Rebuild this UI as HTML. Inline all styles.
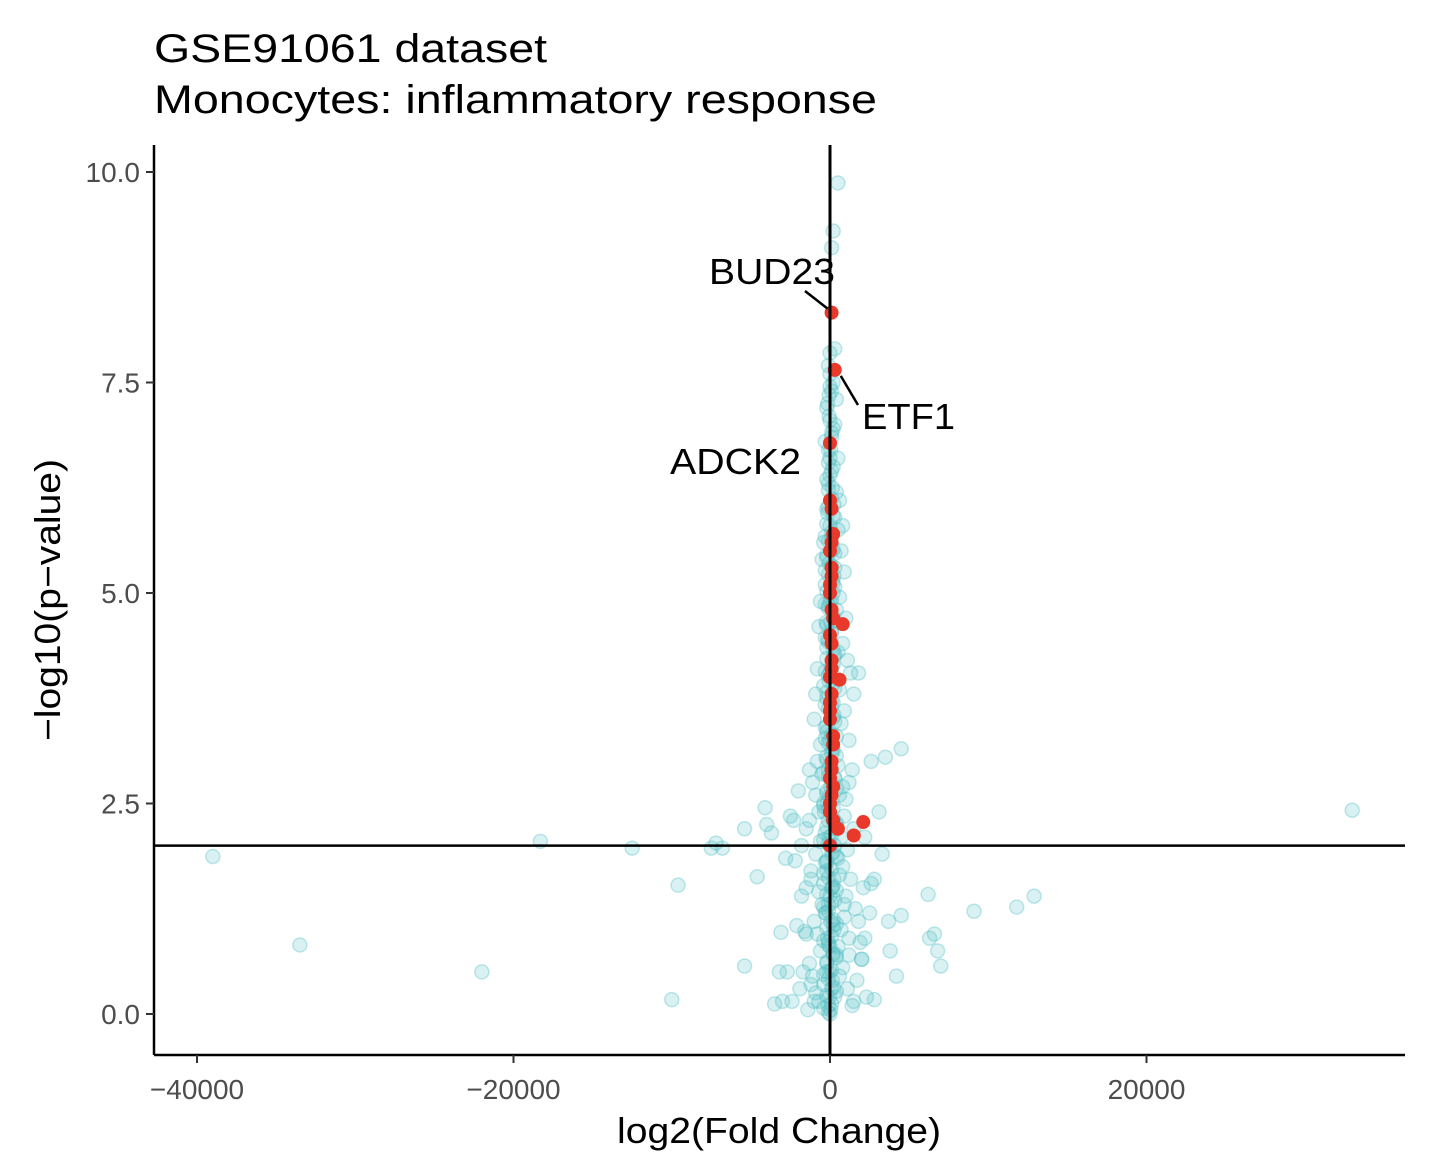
<!DOCTYPE html>
<html><head><meta charset="utf-8">
<style>
body{margin:0;background:#fff;}
svg{display:block;font-family:"Liberation Sans",Arial,sans-serif;}
</style></head>
<body>
<svg id="chart" width="1448" height="1172">
<text x="154" y="62" font-size="40" textLength="393" lengthAdjust="spacingAndGlyphs" fill="#000">GSE91061 dataset</text>
<text x="154" y="113" font-size="40" textLength="723" lengthAdjust="spacingAndGlyphs" fill="#000">Monocytes: inflammatory response</text>
<g id="pts"></g>
<g id="axes"></g>
</svg>
<script>
// Outlying background genes [log2FC, -log10 p]
const outlierPts = [[-39000,1.87],[-33500,0.82],[-22000,0.5],[-18300,2.05],[-12500,1.97],[-10000,0.17],[-9600,1.53],[-7500,1.97],[-7200,2.03],[-6800,1.97],[-5400,2.2],[-5400,0.57],[-4600,1.63],[-4100,2.45],[-4000,2.25],[-3700,2.15],[-3500,0.12],[-3200,0.5],[-3100,0.97],[-3000,0.15],[-2800,1.85],[-2700,0.5],[-2300,2.3],[-2200,1.82],[-2000,2.65],[-1500,1.5],[-1300,2.9],[-1200,0.35],[-1000,0.15],[-1500,0.95],[-1800,2.0],[-2500,2.35],
 [900,1.3],[1200,0.7],[1500,3.8],[1800,4.05],[2000,0.65],[2200,0.9],[2600,3.0],[2800,1.6],[2800,0.17],[3100,2.4],[3300,1.9],[3500,3.05],[3700,1.1],[3800,0.75],[4200,0.45],[4500,3.15],[4500,1.17],[6200,1.42],[6300,0.9],[6600,0.95],[6800,0.75],[7000,0.57],[9100,1.22],[11800,1.27],[12900,1.4],[33000,2.42]];
// Central column of background genes [log2FC, -log10 p]
const centralPts = [[500,9.87],[200,9.3],[100,9.1],[0,7.85],[300,7.9],[-100,7.7],[200,7.5],[400,7.3],[-200,7.2],[300,7.0],[100,6.9],[-300,6.8],[500,6.6],[200,6.5],[0,6.4],[-100,6.3],[400,6.2],[600,6.1],[-200,6.0],[300,5.9],[800,5.8],[500,5.75],[-400,5.6],[100,5.5],[700,5.5],[-500,5.4],[300,5.3],[900,5.25],[-300,5.1],[200,5.0],[600,4.95],[-600,4.9],[400,4.8],[1000,4.7],[-700,4.6],[100,4.55],[800,4.4],[-200,4.35],[500,4.3],[1100,4.2],[-800,4.1],[300,4.0],[1300,4.05],[-400,3.9],[600,3.85],[-900,3.8],[200,3.7],[900,3.6],[-1000,3.5],[700,3.45],[-300,3.4],[400,3.3],[1200,3.25],[-600,3.2],[100,3.1],[-800,3.0],[500,2.95],[1400,2.9],[-500,2.85],[300,2.8],[-1100,2.75],[800,2.7],[-200,2.65],[600,2.6],[1000,2.55],[-400,2.5],[200,2.45],[-700,2.4],[900,2.35],[-100,2.3],[400,2.25],[1500,2.2],[-300,2.15],[700,2.1],[-600,2.05],[300,2.0],[1100,1.95],[-900,1.9],[500,1.85],[-200,1.8],[800,1.75],[-1200,1.7],[600,1.65],[1300,1.6],[-400,1.55],[100,1.5],[-700,1.45],[1000,1.4],[300,1.35],[-500,1.3],[1600,1.25],[-300,1.2],[900,1.15],[-1000,1.1],[200,1.05],[700,1.0],[-800,0.95],[1200,0.9],[-100,0.85],[500,0.8],[-600,0.75],[400,0.7],[2000,0.65],[-1300,0.6],[800,0.55],[-200,0.5],[600,0.45],[1700,0.4],[-400,0.35],[1100,0.3],[-900,0.25],[300,0.2],[-700,0.15],[1400,0.1],[-1400,0.05],
 [0,7.6],[100,7.4],[-50,7.1],[50,6.7],[-100,6.55],[150,6.25],[-150,5.95],[100,5.65],[-50,5.35],[150,5.15],[-100,4.85],[50,4.65],[-150,4.45],[200,4.15],[-50,3.95],[100,3.65],[-200,3.35],[150,3.15],[-100,2.9],[50,2.7],[-150,2.5],[200,2.3],[-50,2.1],[100,1.9],[-200,1.7],[150,1.5],[-100,1.3],[50,1.1],[-150,0.9],[200,0.7],[-50,0.5],[100,0.3],[-100,0.1],[0,0.0],[50,0.05],[-50,0.2],[150,0.4],[-200,0.6],[0,0.8],[250,1.0],[-250,1.2],[0,1.4],[250,1.6],[-300,1.8],[0,2.0],[350,2.2],[-350,2.4],[0,2.6],[300,2.8],[-250,3.05],[0,3.25],[250,3.55],[-200,3.75],[0,4.05],[250,4.25],[-250,4.65],[0,4.9],[250,5.2],[-200,5.45],[0,5.8],[250,6.05],[-200,6.35],[0,6.6],[200,6.95],[-150,7.25],[0,7.45],
 [-1600,0.98],[-1900,0.3],[-2400,0.15],[-1700,0.5],[-1200,1.6],[-1500,2.2],[-1800,1.4],[1800,1.1],[2100,1.5],[2300,0.2],[1900,0.85],[2500,1.2],[2200,2.1],[-2100,1.05],[-1100,0.45],[1500,0.15],[2600,1.55],[-900,2.6],[-1300,2.3],[1200,2.75]];
// Core of the column: genes with near-zero fold change [log2FC, -log10 p]
const corePts = [[-100,0.02],[100,0.12],[-200,0.22],[200,0.32],[-100,0.42],[100,0.52],[-200,0.62],[200,0.72],[-100,0.82],[100,0.92],[-200,1.02],[200,1.12],[-100,1.22],[100,1.32],[-200,1.42],[200,1.52],[-100,1.62],[100,1.72],[-200,1.82],[200,1.92],[-100,2.02],[100,2.12],[-200,2.22],[200,2.32],[-100,2.42],[100,2.52],[-200,2.62],[200,2.72],[-100,2.82],[100,2.92],[-200,3.02],[200,3.12],[-100,3.22],[100,3.32],[-200,3.42],[200,3.52],[-100,3.62],[100,3.72],[-200,3.82],[200,3.92],[-100,4.02],[100,4.12],[-200,4.22],[200,4.32],[-100,4.42],[100,4.52],[-200,4.62],[200,4.72],[-100,4.82],[100,4.92],[-200,5.02],[200,5.12],[-100,5.22],[100,5.32],[-200,5.42],[200,5.52],[-100,5.62],[100,5.72],[-200,5.82],[200,5.92],[-100,6.02],[100,6.12],[-100,6.22],[100,6.45],[-100,6.7],[100,6.85],[0,7.05],[-50,7.35],
 [-400,0.07],[400,0.27],[-400,0.47],[400,0.67],[-400,0.87],[400,1.07],[-400,1.27],[400,1.47],[-400,1.67],[400,1.87],[-400,2.07],[400,2.27],[-400,2.47],[400,2.67],[-400,2.87],[400,3.07],[-300,3.27],[300,3.47],[-300,3.67],[300,3.87],[-300,4.07],[300,4.27],[-300,4.47],[300,4.67],[-300,4.87],[300,5.07],[-300,5.27],[300,5.47],[-300,5.67]];
// Highlighted (inflammatory response) genes
const hiX = [100,300,0,0,100,200,0,100,0,100,800,0,100,0,600,100,0,200,100,0,100,0,200,2100,1500,0,500,100,0,100,0,200,100,0,200,100,0,100,200];
const hiY = [8.33,7.65,6.78,6.1,6.0,5.7,5.5,5.3,5.1,4.8,4.63,4.5,4.2,4.0,3.97,3.8,3.5,3.2,3.0,2.8,2.6,2.4,2.3,2.28,2.12,2.0,2.2,5.6,5.0,4.4,3.6,3.3,2.9,2.5,4.7,4.1,3.7,5.2,2.7];
const xTicks = [-40000,-20000,0,20000];
const xTickLabels = ["\u221240000","\u221220000","0","20000"];
const yTicks = [0,2.5,5,7.5,10];
const yTickLabels = ["0.0","2.5","5.0","7.5","10.0"];
const labels = [{t:"BUD23",i:0},{t:"ETF1",i:1},{t:"ADCK2",i:2}];

const L=154,R=1405,T=145,B=1055;
const sx=v=>830+v*(316.5/20000);
const sy=v=>1014-v*84.2;
const NS="http://www.w3.org/2000/svg";
const pts=document.getElementById('pts'), ax=document.getElementById('axes');
function mk(tag,attrs,parent){const e=document.createElementNS(NS,tag);for(const k in attrs)e.setAttribute(k,attrs[k]);parent.appendChild(e);return e;}

outlierPts.concat(centralPts).concat(corePts).forEach(p=>{
  const c=mk('circle',{cx:sx(p[0]),cy:sy(p[1]),r:7,fill:'rgba(80,190,196,0.22)',stroke:'rgba(80,190,196,0.35)','stroke-width':1.5},pts);
  
  
});
hiX.forEach((x,i)=>{
  const c=mk('circle',{cx:sx(x),cy:sy(hiY[i]),r:7,fill:'#e8392a'},pts);
  
  
});

let hl=mk('line',{x1:L,x2:R,y1:sy(2),y2:sy(2),stroke:'#000','stroke-width':2.5},ax);


let vl=mk('line',{x1:sx(0),x2:sx(0),y1:T,y2:B,stroke:'#000','stroke-width':3},ax);



let ya=mk('line',{x1:L,x2:L,y1:T,y2:B,stroke:'#000','stroke-width':2.5},ax);


let xa=mk('line',{x1:L,x2:R,y1:B,y2:B,stroke:'#000','stroke-width':2.5},ax);


yTicks.forEach((v,i)=>{
  mk('line',{x1:L-8,x2:L,y1:sy(v),y2:sy(v),stroke:'#333','stroke-width':2},ax);
  const t=mk('text',{x:L-14,y:sy(v)+10,'text-anchor':'end','font-size':28,fill:'#4d4d4d'},ax);
  t.textContent=yTickLabels[i];
  
  
});
xTicks.forEach((v,i)=>{
  mk('line',{x1:sx(v),x2:sx(v),y1:B,y2:B+8,stroke:'#333','stroke-width':2},ax);
  const t=mk('text',{x:sx(v),y:B+44,'text-anchor':'middle','font-size':28,fill:'#4d4d4d'},ax);
  t.textContent=xTickLabels[i];
  
  
});
let xt=mk('text',{x:779,y:1143,'text-anchor':'middle','font-size':36,fill:'#000',textLength:324,lengthAdjust:'spacingAndGlyphs'},ax);
xt.textContent='log2(Fold Change)';


let yt=mk('text',{x:0,y:0,'text-anchor':'middle','font-size':36,fill:'#000',textLength:282,lengthAdjust:'spacingAndGlyphs',transform:'translate(60,600) rotate(-90)'},ax);
yt.textContent='\u2212log10(p\u2212value)';



const lblPos=[{x:709,y:284,w:126},{x:862,y:429,w:93},{x:670,y:474,w:131}];
labels.forEach((l,k)=>{
  const p=lblPos[k];
  const px=sx(hiX[l.i]),py=sy(hiY[l.i]);
  let s=null;
  if(k===0) s=mk('line',{x1:805,y1:291,x2:px-4,y2:py-4,stroke:'#000','stroke-width':2.5},ax);
  if(k===1) s=mk('line',{x1:px+6,y1:py+6,x2:858,y2:405,stroke:'#000','stroke-width':2.5},ax);
  if(s){
  }
  const t=mk('text',{x:p.x,y:p.y,'font-size':36,fill:'#000',textLength:p.w,lengthAdjust:'spacingAndGlyphs'},ax);
  t.textContent=l.t;
  
  
});
</script>
</body></html>
